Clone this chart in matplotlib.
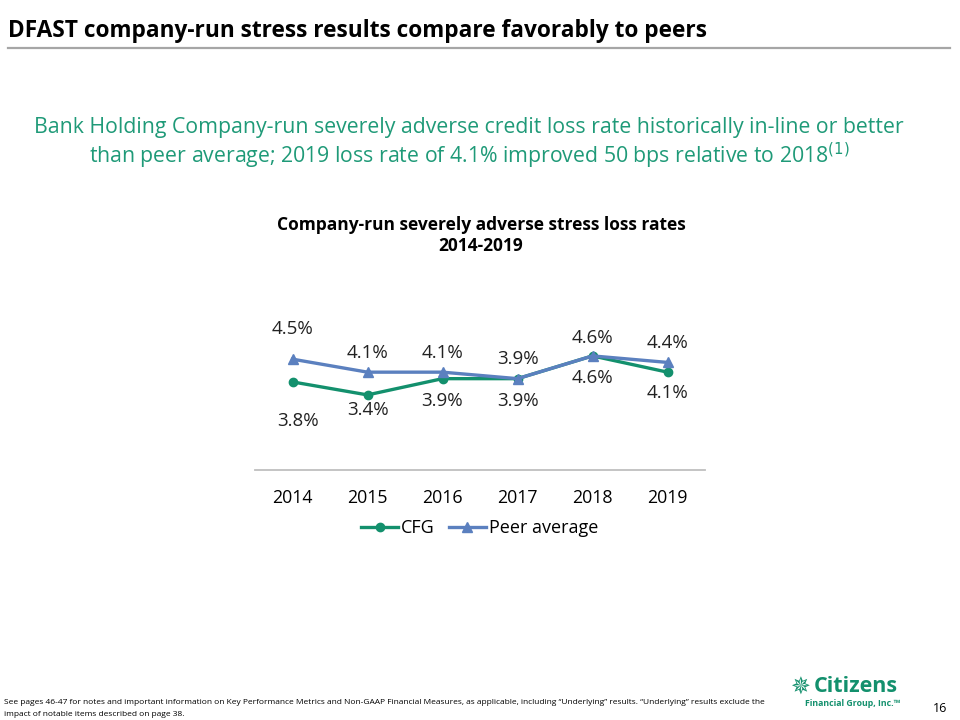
import matplotlib

matplotlib.use("Agg")
import matplotlib.pyplot as plt

years = ["2014", "2015", "2016", "2017", "2018", "2019"]
cfg = [3.8, 3.4, 3.9, 3.9, 4.6, 4.1]
peer = [4.5, 4.1, 4.1, 3.9, 4.6, 4.4]

GREEN = "#13906d"
BLUE = "#5b80bf"
TEXT_GREEN = "#1f9a78"

# label offsets in points (dx, dy)
peer_offsets = [(0, 22), (0, 14), (0, 14), (0, 14), (0, 13), (0, 14)]
cfg_offsets = [(4, -28), (0, -11), (0, -16), (0, -16), (0, -16), (0, -15)]

plt.rcParams["font.family"] = ["Open Sans", "DejaVu Sans"]

W, H = 960, 720
fig = plt.figure(figsize=(W / 100, H / 100), dpi=100)


def fx(px):
    return px / W


def fy(py):
    return 1 - py / H


# header
fig.text(fx(8), fy(31), "DFAST company-run stress results compare favorably to peers",
         fontsize=16.3, fontweight="bold", color="black", va="center", ha="left")
fig.add_artist(plt.Line2D([fx(8), fx(950)], [fy(48), fy(48)], color="#a6a6a6", lw=1.6))

fig.text(fx(469), fy(128), "Bank Holding Company-run severely adverse credit loss rate historically in-line or better",
         fontsize=15.3, color=TEXT_GREEN, ha="center", va="center")
fig.text(fx(469), fy(156), "than peer average; 2019 loss rate of 4.1% improved 50 bps relative to 2018$^{(1)}$",
         fontsize=15.3, color=TEXT_GREEN, ha="center", va="center")

fig.text(fx(481), fy(225), "Company-run severely adverse stress loss rates",
         fontsize=12.5, fontweight="bold", ha="center", va="center")
fig.text(fx(481), fy(246), "2014-2019", fontsize=12.5, fontweight="bold", ha="center", va="center")

# chart
ax = fig.add_axes([fx(255), fy(470), fx(705) - fx(255), fy(300) - fy(470)])
x = range(len(years))
ax.plot(x, cfg, color=GREEN, lw=2.4, marker="o", ms=6, label="CFG")
ax.plot(x, peer, color=BLUE, lw=2.4, marker="^", ms=6.5, label="Peer average")
ax.set_xlim(-0.5, len(years) - 0.5)
ax.set_ylim(1.09, 6.32)

for i, v in enumerate(peer):
    ax.annotate(f"{v:.1f}%", (i, v), xytext=peer_offsets[i], textcoords="offset points",
                ha="center", va="center", fontsize=13.5, color="#222222")
for i, v in enumerate(cfg):
    ax.annotate(f"{v:.1f}%", (i, v), xytext=cfg_offsets[i], textcoords="offset points",
                ha="center", va="center", fontsize=13.5, color="#222222")

ax.set_xticks(list(x))
ax.set_xticklabels(years, fontsize=12.8)
ax.set_yticks([])
ax.tick_params(axis="x", length=0, pad=14)
for side in ["top", "left", "right"]:
    ax.spines[side].set_visible(False)
ax.spines["bottom"].set_color("#bfbfbf")
ax.spines["bottom"].set_linewidth(1.3)
ax.patch.set_alpha(0)

fig.legend(loc="center", bbox_to_anchor=(fx(480), fy(528)), ncol=2, frameon=False,
           fontsize=13, handlelength=2.0, handletextpad=0.2, columnspacing=0.8)

# footer
fig.text(fx(4), fy(703), "See pages 46-47 for notes and important information on Key Performance Metrics and Non-GAAP Financial Measures, as applicable, including \u201cUnderlying\u201d results. \u201cUnderlying\u201d results exclude the",
         fontsize=6.05, ha="left", va="center")
fig.text(fx(4), fy(714), "impact of notable items described on page 38.", fontsize=6.05, ha="left", va="center")
fig.text(fx(940), fy(708), "16", fontsize=9, ha="center", va="center")

fig.text(fx(814), fy(687), "Citizens", fontsize=15.5, fontweight="bold", color=GREEN, ha="left", va="center")
fig.text(fx(900), fy(703), "Financial Group, Inc.\u2122", fontsize=6.3, fontweight="bold", color=GREEN,
         ha="right", va="center")
fig.text(fx(800), fy(688), "\u2735", fontsize=17, color=GREEN, ha="center", va="center",
         family=["DejaVu Sans"])

fig.savefig("out.png", dpi=100)
